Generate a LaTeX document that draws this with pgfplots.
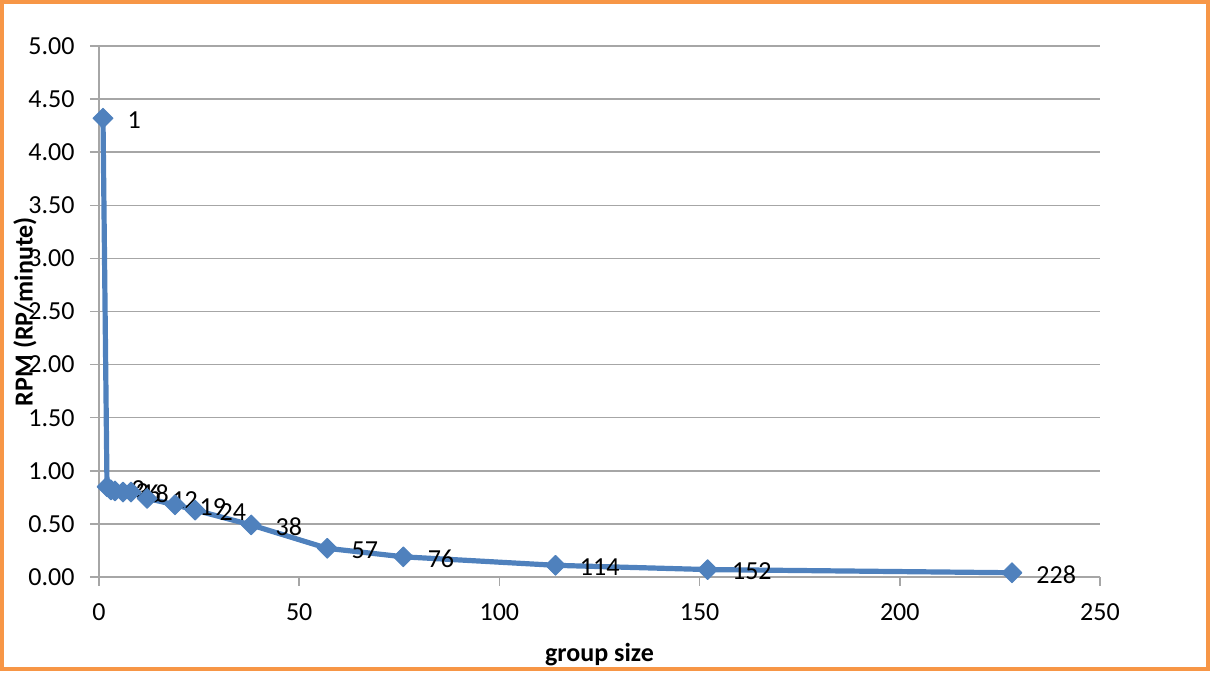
\documentclass[border=0pt]{standalone}
\usepackage{fontspec}
\setmainfont{Carlito}
\usepackage{pgfplots}
\pgfplotsset{compat=1.18}
\definecolor{xlblue}{RGB}{79,129,189}
\definecolor{xlorange}{RGB}{247,150,70}
\definecolor{xlgrid}{RGB}{166,166,166}
\begin{document}
\fontsize{13pt}{15pt}\selectfont
\begin{tikzpicture}
\begin{axis}[
  scale only axis, width=500.5pt, height=265.5pt,
  xmin=0, xmax=250, ymin=0, ymax=5,
  xtick={0,50,100,150,200,250},
  ytick={0,0.5,1,1.5,2,2.5,3,3.5,4,4.5,5},
  axis x line=bottom, axis y line=left,
  axis line style={-, draw=xlgrid, line width=0.75pt},
  ymajorgrids, grid style={xlgrid, line width=0.75pt},
  tick align=outside, major tick length=4.5pt,
  tick style={xlgrid, line width=0.75pt},
  /pgf/number format/assume math mode=true,
  ticklabel style={font=\fontsize{13pt}{15pt}\selectfont, text=black},
  yticklabel style={/pgf/number format/fixed, /pgf/number format/fixed zerofill, /pgf/number format/precision=2},
  yticklabel style={anchor=east, inner sep=0pt, xshift=-7.5pt},
  xticklabel style={anchor=north, inner sep=0pt, yshift=-8.5pt},
  xlabel={group size}, ylabel={RPM (RP/minute)},
  label style={font=\bfseries\fontsize{13pt}{15pt}\selectfont},
  xlabel style={at={(axis description cs:0.5,-0.147)}, anchor=center},
  ylabel style={at={(axis description cs:-0.074,0.5)}, anchor=center},
  clip=false,
]
\addplot[xlblue, line width=2.6pt, line join=round,
  mark=square*, mark size=3.5pt, mark options={rotate=45, solid, fill=xlblue, line width=0.5pt},
  nodes near coords, point meta=explicit symbolic,
  nodes near coords style={anchor=west, inner sep=0pt, xshift=12pt, yshift=-1pt, text=black, font=\fontsize{13pt}{15pt}\selectfont}]
table[meta=lbl] {
x y lbl
1 4.32 1
2 0.85 2
3 0.82 3
4 0.81 4
6 0.80 6
8 0.80 8
12 0.74 12
19 0.68 19
24 0.63 24
38 0.49 38
57 0.27 57
76 0.19 76
114 0.11 114
152 0.07 152
228 0.04 228
};
\end{axis}
\draw[xlorange, line width=2pt] (-48.5pt,-46pt) rectangle (554.5pt,287.5pt);
\end{tikzpicture}
\end{document}
